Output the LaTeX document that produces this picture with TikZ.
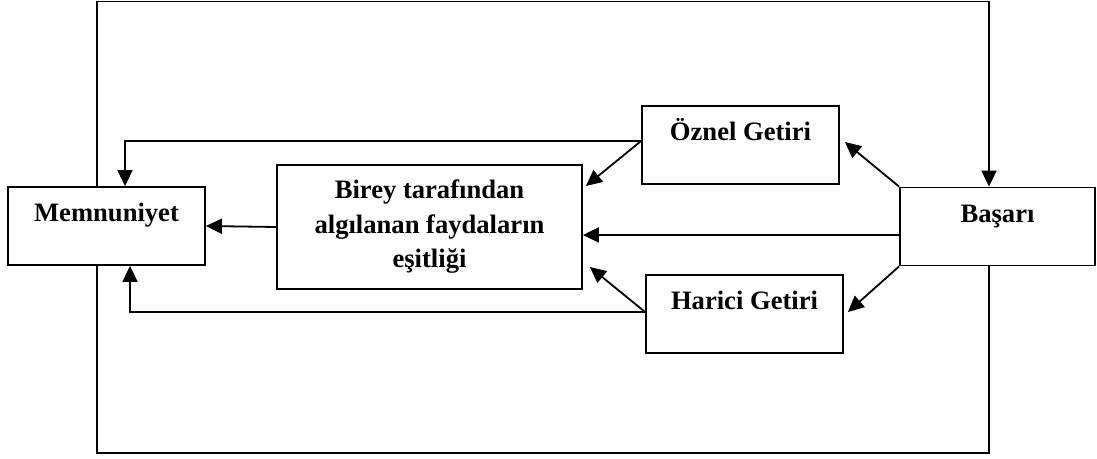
\documentclass[tikz,border=0pt]{standalone}
\usepackage{fontspec}
\setmainfont{Liberation Serif}
\usetikzlibrary{arrows.meta}

\begin{document}
\begin{tikzpicture}[x=0.5pt,y=-0.5pt,
    box/.style={draw, line width=0.9pt, minimum width=98.5pt, minimum height=39pt,
        inner sep=0pt, text height=8pt, text depth=12pt,
        font=\fontsize{13.3}{17.25}\selectfont\bfseries},
    arr/.style={line width=0.9pt, -{Triangle[length=8pt,width=7.5pt]}},
    line/.style={line width=0.9pt}]
    \useasboundingbox (0,0) rectangle (1097,459);

    % Boxes
    \node[box] (mem) at (106.5,226) {Memnuniyet};
    \node[box, minimum width=152.5pt, minimum height=62pt, align=center,
        text height=, text depth=] (bir) at (429.5,227)
        {Birey tarafından\\algılanan faydaların\\eşitliği};
    \node[box] (ozn) at (740.5,145) {Öznel Getiri};
    \node[box] (har) at (744.5,314) {Harici Getiri};
    \node[box, minimum width=97.5pt] (bas) at (997.5,226.5) {Başarı};

    % Outer loop
    \coordinate (tl) at (97,1.5);
    \coordinate (tr) at (989,1.5);
    \coordinate (bl) at (97,453);
    \coordinate (br) at (989,453);
    \draw[arr] (tl |- mem.north) -- (tl) -- (tr) -- (tr |- bas.north);
    \draw[line] (br |- bas.south) -- (br) -- (bl) -- (bl |- mem.south);

    % Arrows
    \draw[arr] (bir.west) -- (mem.east);
    \draw[arr] ([yshift=-4.25pt]bas.west) -- ([yshift=-4.25pt]bas.west -| bir.east);
    \draw[arr] (bas.north west) -- ([xshift=2.5pt,yshift=1.5pt]ozn.east);
    \draw[arr] (bas.south west) -- ([xshift=2pt,yshift=1pt]har.east);
    \draw[arr] ([yshift=2pt]ozn.west) -- ([xshift=1.5pt,yshift=20.5pt]bir.east);
    \draw[arr] ([yshift=1pt]har.west) -- ([xshift=3.5pt,yshift=-20pt]bir.east);
    \draw[arr] ([yshift=2pt]ozn.west) -| ([xshift=9.25pt]mem.north);
    \draw[arr] ([yshift=1pt]har.west) -| ([xshift=11.75pt]mem.south);
\end{tikzpicture}
\end{document}
